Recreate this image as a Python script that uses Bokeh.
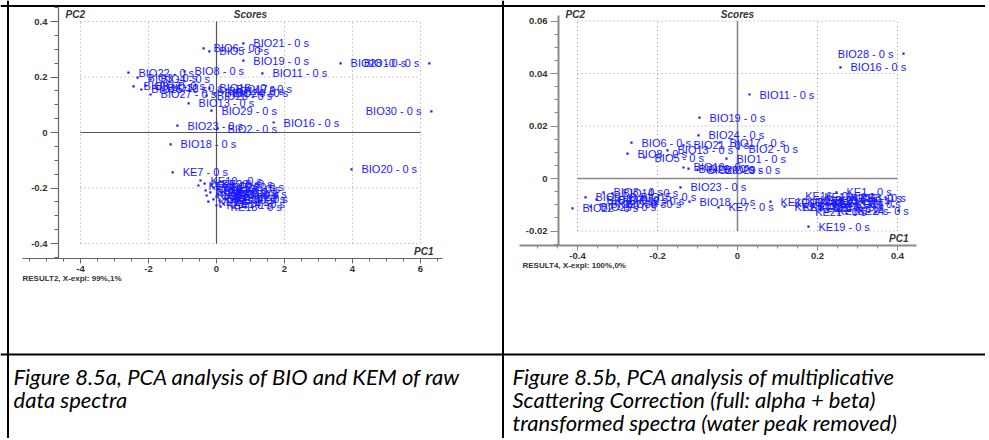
import numpy as np
from bokeh.plotting import figure
from bokeh.models import Range1d, LinearAxis, FixedTicker, ColumnDataSource, Label, Span
from bokeh.core.properties import value, field
from bokeh.embed import file_html
from bokeh.resources import INLINE

# ---------------- data: Figure 8.5a (raw spectra) ----------------
a_bio_names = ["BIO%d - 0 s" % i for i in range(1, 31)]
a_bio_pc1 = [-0.06, 0.03, -2.32, -1.94, -0.21, -0.38, -2.09, -0.94, -2.44, 6.26,
             1.35, -1.74, -0.82, 0.06, -0.21, 1.68, 0.29, -1.35, 0.79, 3.97,
             0.79, -2.59, -1.15, 0.18, -2.21, -0.29, -1.94, 3.65, -0.15, 6.32]
a_bio_pc2 = [0.141, 0.014, 0.198, 0.191, 0.292, 0.303, 0.169, 0.220, 0.166, 0.249,
             0.213, 0.159, 0.105, 0.151, 0.159, 0.036, 0.155, -0.043, 0.259, -0.133,
             0.321, 0.216, 0.025, 0.144, 0.155, 0.133, 0.137, 0.249, 0.079, 0.076]
a_ke_names = ["KE%d - 0 s" % i for i in range(1, 25)]
a_ke_pc1 = [0.00, -0.35, 0.09, 0.00, 0.18, -0.09, -1.29, -0.18, 0.12, -0.47,
            0.24, -0.29, 0.06, 0.21, -0.09, 0.26, -0.24, 0.12, -0.32, -0.15,
            -0.53, 0.18, 0.03, 0.29]
a_ke_pc2 = [-0.231, -0.184, -0.245, -0.263, -0.227, -0.241, -0.144, -0.216, -0.213, -0.173,
            -0.238, -0.227, -0.202, -0.256, -0.198, -0.220, -0.249, -0.267, -0.209, -0.187,
            -0.191, -0.195, -0.223, -0.241]
a_xticks = [-4, -2, 0, 2, 4, 6]
a_xtick_labels = ["-4", "-2", "0", "2", "4", "6"]
a_yticks = [-0.4, -0.2, 0, 0.2, 0.4]
a_ytick_labels = ["-0.4", "-0.2", "0", "0.2", "0.4"]
a_footer = "RESULT2, X-expl: 99%,1%"

# ---------------- data: Figure 8.5b (MSC spectra) ----------------
b_bio_names = ["BIO%d - 0 s" % i for i in range(1, 31)]
b_bio_pc1 = [-0.0275, 0.0025, -0.335, -0.3525, -0.2325, -0.265, -0.3225, -0.275, -0.38, -0.135,
             0.03, -0.2975, -0.175, -0.3125, -0.2675, 0.2575, -0.045, -0.12, -0.095, -0.10,
             -0.135, -0.4125, -0.1425, -0.0975, -0.3675, -0.1225, -0.3425, 0.415, -0.0575, -0.305]
b_bio_pc2 = [0.0076, 0.0114, -0.0053, -0.0080, 0.0080, 0.0137, -0.0080, 0.0095, -0.0072, 0.0042,
             0.0320, -0.0084, 0.0107, -0.0057, -0.0072, 0.0423, 0.0137, -0.0088, 0.0232, 0.0034,
             0.0126, -0.0114, -0.0034, 0.0164, -0.0107, 0.0038, -0.0099, 0.0476, 0.0034, -0.0099]
b_ke_names = ["KE%d - 0 s" % i for i in range(1, 25)]
b_ke_pc1 = [0.2475, 0.1175, 0.2825, 0.3125, 0.345, 0.3775, -0.0475, 0.27, 0.3025, 0.0825,
            0.3325, 0.3575, 0.39, 0.2275, 0.2575, 0.3225, 0.37, 0.4025, 0.1775, 0.295,
            0.3475, 0.2125, 0.3875, 0.275]
b_ke_pc2 = [-0.0053, -0.0107, -0.0076, -0.0088, -0.0080, -0.0095, -0.0110, -0.0099, -0.0110, -0.0088,
            -0.0103, -0.0114, -0.0107, -0.0080, -0.0076, -0.0065, -0.0072, -0.0122, -0.0183, -0.0095,
            -0.0126, -0.0095, -0.0084, -0.0122]
b_xticks = [-0.4, -0.2, 0, 0.2, 0.4]
b_xtick_labels = ["-0.4", "-0.2", "0", "0.2", "0.4"]
b_yticks = [-0.02, 0, 0.02, 0.04, 0.06]
b_ytick_labels = ["-0.02", "0", "0.02", "0.04", "0.06"]
b_footer = "RESULT4, X-expl: 100%,0%"

caption_a = ["Figure 8.5a, PCA analysis of BIO and KEM of raw", "data spectra"]
caption_b = ["Figure 8.5b, PCA analysis of multiplicative",
             "Scattering Correction (full: alpha + beta)",
             "transformed spectra (water peak removed)"]

# ---------------- layout (canvas pixels) ----------------
W, H = 985, 438
BLUE = "#1a1aff"
DARK = "#333333"

p = figure(width=W, height=H, x_range=Range1d(0, W), y_range=Range1d(H, 0),
           x_axis_type=None, y_axis_type=None, toolbar_location=None,
           output_backend="svg", min_border=0, outline_line_color=None)
if p.title is not None:
    p.title.visible = False
p.background_fill_color = "white"
p.border_fill_color = "white"


def panel(name, x0, sx, y0, sy, xaxis_px, yaxis_px, xt, xtl, xminor_step, yt, ytl, yminor_step,
          names, xs, ys, footer, footer_xy, pc2_xy, scores_x, pc1_xy, axis_color, axis_w, zero_color, zero_w):
    xr, yr = name + "x", name + "y"
    p.extra_x_ranges[xr] = Range1d(-x0 / sx, (W - x0) / sx)
    p.extra_y_ranges[yr] = Range1d((y0 - H) / sy, y0 / sy)
    xb = ((xaxis_px[0] - x0) / sx, (xaxis_px[1] - x0) / sx)   # x-axis extent
    yb = ((y0 - yaxis_px[2]) / sy, (y0 - yaxis_px[1]) / sy)   # y-axis extent (bottom, top)
    yaxis_x = (yaxis_px[0] - x0) / sx

    # dotted grid + solid zero cross
    gx = [t for t in xt if t != 0]
    gy = [t for t in yt if t != 0]
    p.segment(x0=gx, x1=gx, y0=[yt[0]] * len(gx), y1=[yt[-1]] * len(gx),
              x_range_name=xr, y_range_name=yr, line_color="#9a9a9a", line_dash="1 3", line_width=1)
    p.segment(x0=[xt[0]] * len(gy), x1=[xt[-1]] * len(gy), y0=gy, y1=gy,
              x_range_name=xr, y_range_name=yr, line_color="#9a9a9a", line_dash="1 3", line_width=1)
    p.segment(x0=[0, xt[0]], x1=[0, xt[-1]], y0=[yt[0], 0], y1=[yt[-1], 0],
              x_range_name=xr, y_range_name=yr, line_color=zero_color, line_width=zero_w)

    xminor = list(np.round(np.arange(np.ceil(xb[0] / xminor_step) * xminor_step, xb[1], xminor_step), 6))
    yminor = list(np.round(np.arange(np.ceil(yb[0] / yminor_step) * yminor_step, yb[1], yminor_step), 6))
    xa = LinearAxis(x_range_name=xr, y_range_name=yr, fixed_location=yb[0], bounds=xb,
                    ticker=FixedTicker(ticks=xt, minor_ticks=xminor),
                    major_label_overrides={t: l for t, l in zip(xt, xtl)})
    ya = LinearAxis(x_range_name=xr, y_range_name=yr, fixed_location=yaxis_x, bounds=yb,
                    ticker=FixedTicker(ticks=yt, minor_ticks=yminor),
                    major_label_overrides={t: l for t, l in zip(yt, ytl)})
    for ax, mt in ((xa, 5), (ya, 8)):
        ax.axis_line_color = axis_color
        ax.axis_line_width = axis_w
        ax.major_tick_line_color = axis_color
        ax.minor_tick_line_color = axis_color
        ax.major_tick_in = 0
        ax.minor_tick_in = 0
        ax.major_tick_out = mt
        ax.minor_tick_out = 3 if mt == 5 else 4
        ax.major_label_text_font = "Liberation Sans"
        ax.major_label_text_font_size = "9.5px"
        ax.major_label_text_font_style = "bold"
        ax.major_label_text_color = DARK
        ax.major_label_standoff = 2 if mt == 5 else 3
    p.add_layout(xa, "below")
    p.add_layout(ya, "left")

    # points and labels
    right_lim = xb[1] - 64.0 / sx
    align = ["right" if x > right_lim else "left" for x in xs]
    xoff = [-10 if x > right_lim else 10 for x in xs]
    src = ColumnDataSource(dict(x=xs, y=ys, name=names, align=align, xoff=xoff))
    p.scatter("x", "y", source=src, x_range_name=xr, y_range_name=yr,
              marker="square", size=2.2, color=BLUE, line_width=0)
    p.text("x", "y", text="name", source=src, x_range_name=xr, y_range_name=yr,
           text_align=field("align"), x_offset=field("xoff"), text_baseline="middle",
           text_font=value("Liberation Sans"), text_font_size=value("11px"), text_color=BLUE)

    # annotations
    style = dict(text_font="Liberation Sans", text_font_size="10px", text_font_style="bold italic",
                 text_color=DARK, text_baseline="middle")
    p.add_layout(Label(x=pc2_xy[0], y=pc2_xy[1], text="PC2", **style))
    p.add_layout(Label(x=scores_x, y=pc2_xy[1], text="Scores", text_align="center", **style))
    p.add_layout(Label(x=pc1_xy[0], y=pc1_xy[1], text="PC1", text_align="right", **style))
    p.add_layout(Label(x=footer_xy[0], y=footer_xy[1], text=footer, text_font="Liberation Sans",
                       text_font_size="8px", text_font_style="bold", text_color=DARK,
                       text_baseline="middle"))


panel("a", 216, 34.0, 132, 277.5, (22, 442), (58, 7, 258),
      a_xticks, a_xtick_labels, 0.5, a_yticks, a_ytick_labels, 0.05,
      a_bio_names + a_ke_names, a_bio_pc1 + a_ke_pc1, a_bio_pc2 + a_ke_pc2,
      a_footer, (22, 278), (65, 14), 250, (433, 251), "#666666", 1.2, "#555555", 1.2)

panel("b", 737, 400.0, 178, 2625.0, (519, 916), (558, 15, 245),
      b_xticks, b_xtick_labels, 0.05, b_yticks, b_ytick_labels, 0.005,
      b_bio_names + b_ke_names, b_bio_pc1 + b_ke_pc1, b_bio_pc2 + b_ke_pc2,
      b_footer, (522, 265), (565, 14), 737, (908, 238), "#8a8a8a", 2, "#8a8a8a", 1.6)

# table borders
for loc in (7.5, 502.5):
    p.add_layout(Span(location=loc, dimension="height", line_color="black", line_width=2))
for loc in (5.5, 354):
    p.add_layout(Span(location=loc, dimension="width", line_color="black", line_width=2))

# captions
for lines, x in ((caption_a, 13), (caption_b, 512)):
    for i, t in enumerate(lines):
        p.add_layout(Label(x=x, y=376 + 23 * i, text=t, text_font="Lato", text_font_style="italic",
                           text_font_size="22px", text_color="#000000", text_baseline="alphabetic"))

open("out.html", "w").write(file_html(p, INLINE))
